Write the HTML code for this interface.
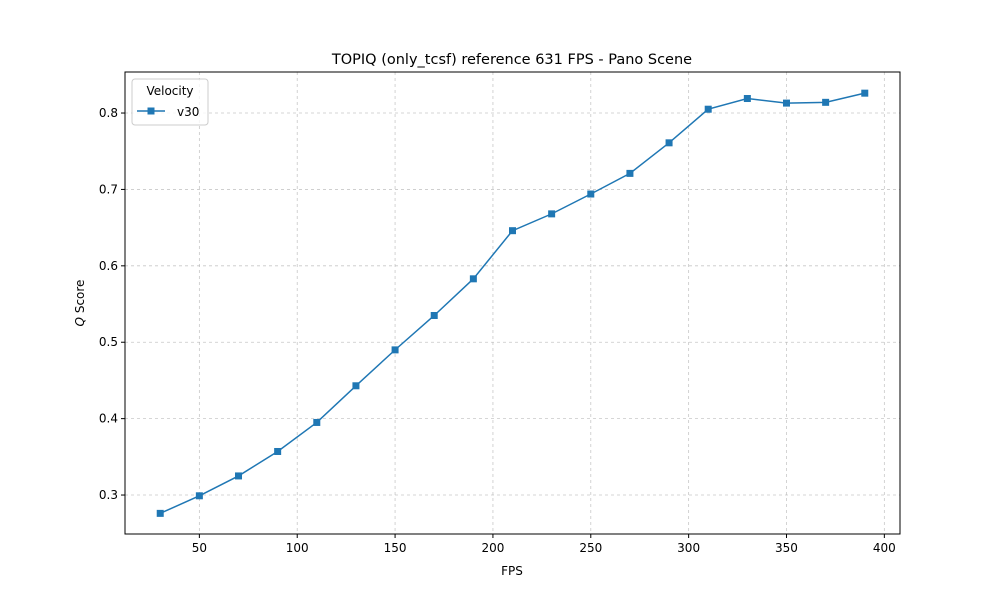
<!DOCTYPE html>
<html><head><meta charset="utf-8"><style>
body{margin:0;background:#fff;font-family:"Liberation Sans","DejaVu Sans",sans-serif;}
svg text{font-family:"DejaVu Sans","Liberation Sans",sans-serif;fill:#000;}
</style></head><body>
<svg id="chart" width="1000" height="600" xmlns="http://www.w3.org/2000/svg">
<rect width="1000" height="600" fill="#fff"/>
<g id="grid"></g>
<g id="ticks"></g>
<g id="series"></g>
<rect x="125" y="72" width="775" height="462" fill="none" stroke="#000" stroke-width="1"/>
<text x="512" y="64" font-size="14.5" text-anchor="middle">TOPIQ (only_tcsf) reference 631 FPS - Pano Scene</text>
<text x="512" y="575" font-size="12" text-anchor="middle">FPS</text>
<text transform="translate(84,303) rotate(-90)" font-size="12" text-anchor="middle"><tspan font-style="italic">Q</tspan> Score</text>
<g>
<rect x="132" y="79" width="76" height="46" rx="3" fill="#fff" fill-opacity="0.8" stroke="#ccc"/>
<text x="170" y="95" font-size="12" text-anchor="middle">Velocity</text>
<line x1="137" y1="111" x2="165" y2="111" stroke="#1f77b4" stroke-width="1.5"/>
<rect x="147.5" y="107.5" width="7" height="7" fill="#1f77b4"/>
<text x="177" y="116" font-size="12">v30</text>
</g>
</svg>
<script>
const fps = [30,50,70,90,110,130,150,170,190,210,230,250,270,290,310,330,350,370,390];
const v30 = [0.276,0.299,0.325,0.357,0.395,0.443,0.490,0.535,0.583,0.646,0.668,0.694,0.721,0.761,0.805,0.819,0.813,0.814,0.826];
const xTicks = [50,100,150,200,250,300,350,400];
const yTicks = [0.3,0.4,0.5,0.6,0.7,0.8];
const X0=125,X1=900,Y0=534,Y1=72,xmin=12,xmax=408,ymin=0.249,ymax=0.8537;
const sx=v=>X0+(v-xmin)/(xmax-xmin)*(X1-X0);
const sy=v=>Y0-(v-ymin)/(ymax-ymin)*(Y0-Y1);
const NS="http://www.w3.org/2000/svg";
function mk(t,a,p){const e=document.createElementNS(NS,t);for(const k in a)e.setAttribute(k,a[k]);p.appendChild(e);return e;}
const grid=document.getElementById('grid'),ticks=document.getElementById('ticks'),ser=document.getElementById('series');
xTicks.forEach(t=>{const x=sx(t);
 const g=mk('line',{x1:x,x2:x,y1:Y1,y2:Y0,stroke:'#b0b0b0','stroke-width':0.8,'stroke-dasharray':'3,3','stroke-opacity':0.7},grid);
 
 
 mk('line',{x1:x,x2:x,y1:Y0,y2:Y0+4,stroke:'#000'},ticks);
 const l=mk('text',{x:x,y:Y0+18,'font-size':12,'text-anchor':'middle'},ticks);l.textContent=t;
 
 
});
yTicks.forEach(t=>{const y=sy(t);
 const g=mk('line',{x1:X0,x2:X1,y1:y,y2:y,stroke:'#b0b0b0','stroke-width':0.8,'stroke-dasharray':'3,3','stroke-opacity':0.7},grid);
 
 
 mk('line',{x1:X0-4,x2:X0,y1:y,y2:y,stroke:'#000'},ticks);
 const l=mk('text',{x:X0-7,y:y+4,'font-size':12,'text-anchor':'end'},ticks);l.textContent=t.toFixed(1);
 
 
});
const line=mk('polyline',{points:fps.map((f,i)=>sx(f)+','+sy(v30[i])).join(' '),fill:'none',stroke:'#1f77b4','stroke-width':1.5},ser);


fps.forEach((f,i)=>{
 const m=mk('rect',{x:sx(f)-3.5,y:sy(v30[i])-3.5,width:7,height:7,fill:'#1f77b4'},ser);
 
 
});
</script>
</body></html>
